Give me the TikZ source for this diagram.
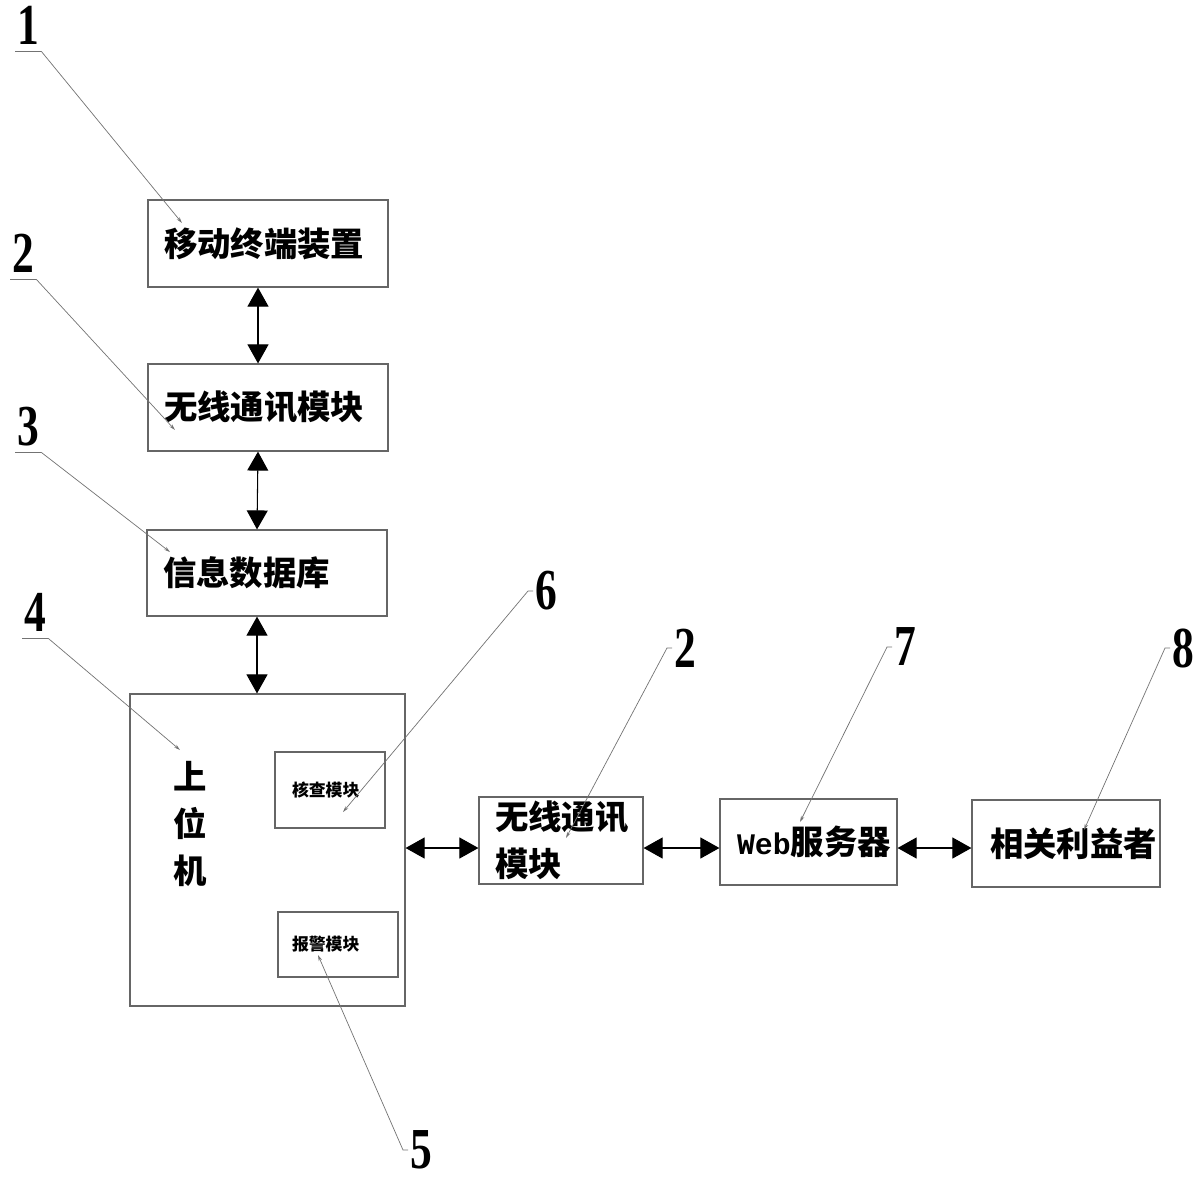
\documentclass[tikz,border=0pt]{standalone}
\usepackage{fontspec}
\newfontfamily\cjk{Noto Sans CJK SC}
\newfontfamily\numfont{Liberation Serif}
\newfontfamily\webfont{Liberation Mono}
\usetikzlibrary{arrows.meta}
\newcommand{\numlbl}[1]{\scalebox{.75}[1]{#1}}

\begin{document}
\begin{tikzpicture}
      [%%%%%%%%%%%%%%%%%%%%%%%%%%%%%%
      x=0.02cm, y=-0.02cm,
      blk/.style={rectangle,draw=black!60,line width=.7pt,inner xsep=.32cm,inner ysep=0pt,align=left,font=\cjk\bfseries\fontsize{19pt}{26.5pt}\selectfont},
      smallblk/.style={blk,font=\cjk\bfseries\fontsize{9.6pt}{12pt}\selectfont},
      txt/.style={inner sep=0pt,align=center,font=\cjk\bfseries\fontsize{19pt}{26.5pt}\selectfont},
      num/.style={inner xsep=.04cm,inner ysep=0pt,font=\numfont\bfseries\fontsize{33pt}{36pt}\selectfont},
      tag/.style={num,anchor=west},
      leader/.style={draw=black!55,line width=.4pt,-{Stealth[length=3.5pt,width=2pt]}},
      biarrow/.style={line width=.6pt,{Triangle[length=.38cm,width=.42cm]}-{Triangle[length=.38cm,width=.42cm]}},
      ]%%%%%%%%%%%%%%%%%%%%%%%%%%%%%%

      \useasboundingbox (0,0) rectangle (1200,1180);

      % left column
      \node[blk,minimum width=4.8cm,minimum height=1.74cm,text width=4.16cm] (mob) at (268,243.5) {移动终端装置};
      \node[blk,minimum width=4.8cm,minimum height=1.74cm,text width=4.16cm] (wl1) at (268,407.5) {无线通讯模块};
      \node[blk,minimum width=4.8cm,minimum height=1.72cm,text width=4.16cm] (db) at (267,573) {信息数据库};
      \node[blk,minimum width=5.5cm,minimum height=6.24cm] (host) at (267.5,850) {};
      \node[txt] (hosttxt) at (190,824) {上\\位\\机};
      \node[smallblk,minimum width=2.2cm,minimum height=1.52cm,text width=1.52cm,inner xsep=.34cm] (chk) at (330,790) {核查模块};
      \node[smallblk,minimum width=2.4cm,minimum height=1.3cm,text width=1.84cm,inner xsep=.28cm] (alm) at (338,944.5) {报警模块};

      % bottom row
      \node[blk,minimum width=3.28cm,minimum height=1.74cm,text width=2.64cm] (wl2) at (561,840.5) {无线通讯\\模块};
      \node[blk,minimum width=3.54cm,minimum height=1.72cm,text width=2.86cm,inner xsep=.34cm] (web) at (808.5,842) {{\webfont\fontsize{17pt}{20pt}\selectfont Web}服务器};
      \node[blk,minimum width=3.76cm,minimum height=1.74cm,text width=3.04cm,inner xsep=.36cm] (usr) at (1066,843.5) {相关利益者};

      \draw[biarrow] ([xshift=-.2cm]mob.south) -- ([xshift=-.2cm]wl1.north);
      \draw[biarrow] ([xshift=-.2cm]wl1.south) -- ([xshift=-.2cm]db.north);
      \coordinate (dbs) at ([xshift=-.2cm]db.south);
      \draw[biarrow] (dbs) -- (dbs |- host.north);

      \coordinate (hy) at ([yshift=-.15cm]wl2.west);
      \draw[biarrow] (host.east |- hy) -- (hy);
      \draw[biarrow] (wl2.east |- hy) -- (web.west |- hy);
      \draw[biarrow] (web.east |- hy) -- (usr.west |- hy);

      % reference numbers
      \coordinate (e1) at (182,223);
      \coordinate (e2) at (175,430);
      \coordinate (e3) at (170,552);
      \coordinate (e4) at (180,750);
      \coordinate (e5) at (318,955);
      \coordinate (e6) at (343,812);
      \coordinate (e2r) at (566,838);
      \coordinate (e7) at (800,822);
      \coordinate (e8) at (1084,830);

      \node[num,anchor=south west] (n1) at (15,45) {\numlbl{1}};
      \node[num,anchor=south west] (n2) at (10,273) {\numlbl{2}};
      \node[num,anchor=south west] (n3) at (15,446) {\numlbl{3}};
      \node[num,anchor=south west] (n4) at (22,632) {\numlbl{4}};
      \draw[leader] ([yshift=-.13cm]n1.south west) -- ([yshift=-.13cm]n1.south east) -- (e1);
      \draw[leader] ([yshift=-.13cm]n2.south west) -- ([yshift=-.13cm]n2.south east) -- (e2);
      \draw[leader] ([yshift=-.13cm]n3.south west) -- ([yshift=-.13cm]n3.south east) -- (e3);
      \draw[leader] ([yshift=-.13cm]n4.south west) -- ([yshift=-.13cm]n4.south east) -- (e4);

      \node[tag] (n5) at (408,1150) {\numlbl{5}};
      \node[tag] (n6) at (533,591) {\numlbl{6}};
      \node[tag] (n2r) at (672,648) {\numlbl{2}};
      \node[tag] (n7) at (892,647) {\numlbl{7}};
      \node[tag] (n8) at (1170,648) {\numlbl{8}};
      \draw[leader] (n5.west) -- ++(-5,0) -- (e5);
      \draw[leader] (n6.west) -- ++(-5,0) -- (e6);
      \draw[leader] (n2r.west) -- ++(-5,0) -- (e2r);
      \draw[leader] (n7.west) -- ++(-5,0) -- (e7);
      \draw[leader] (n8.west) -- ++(-5,0) -- (e8);
    \end{tikzpicture}
\end{document}
